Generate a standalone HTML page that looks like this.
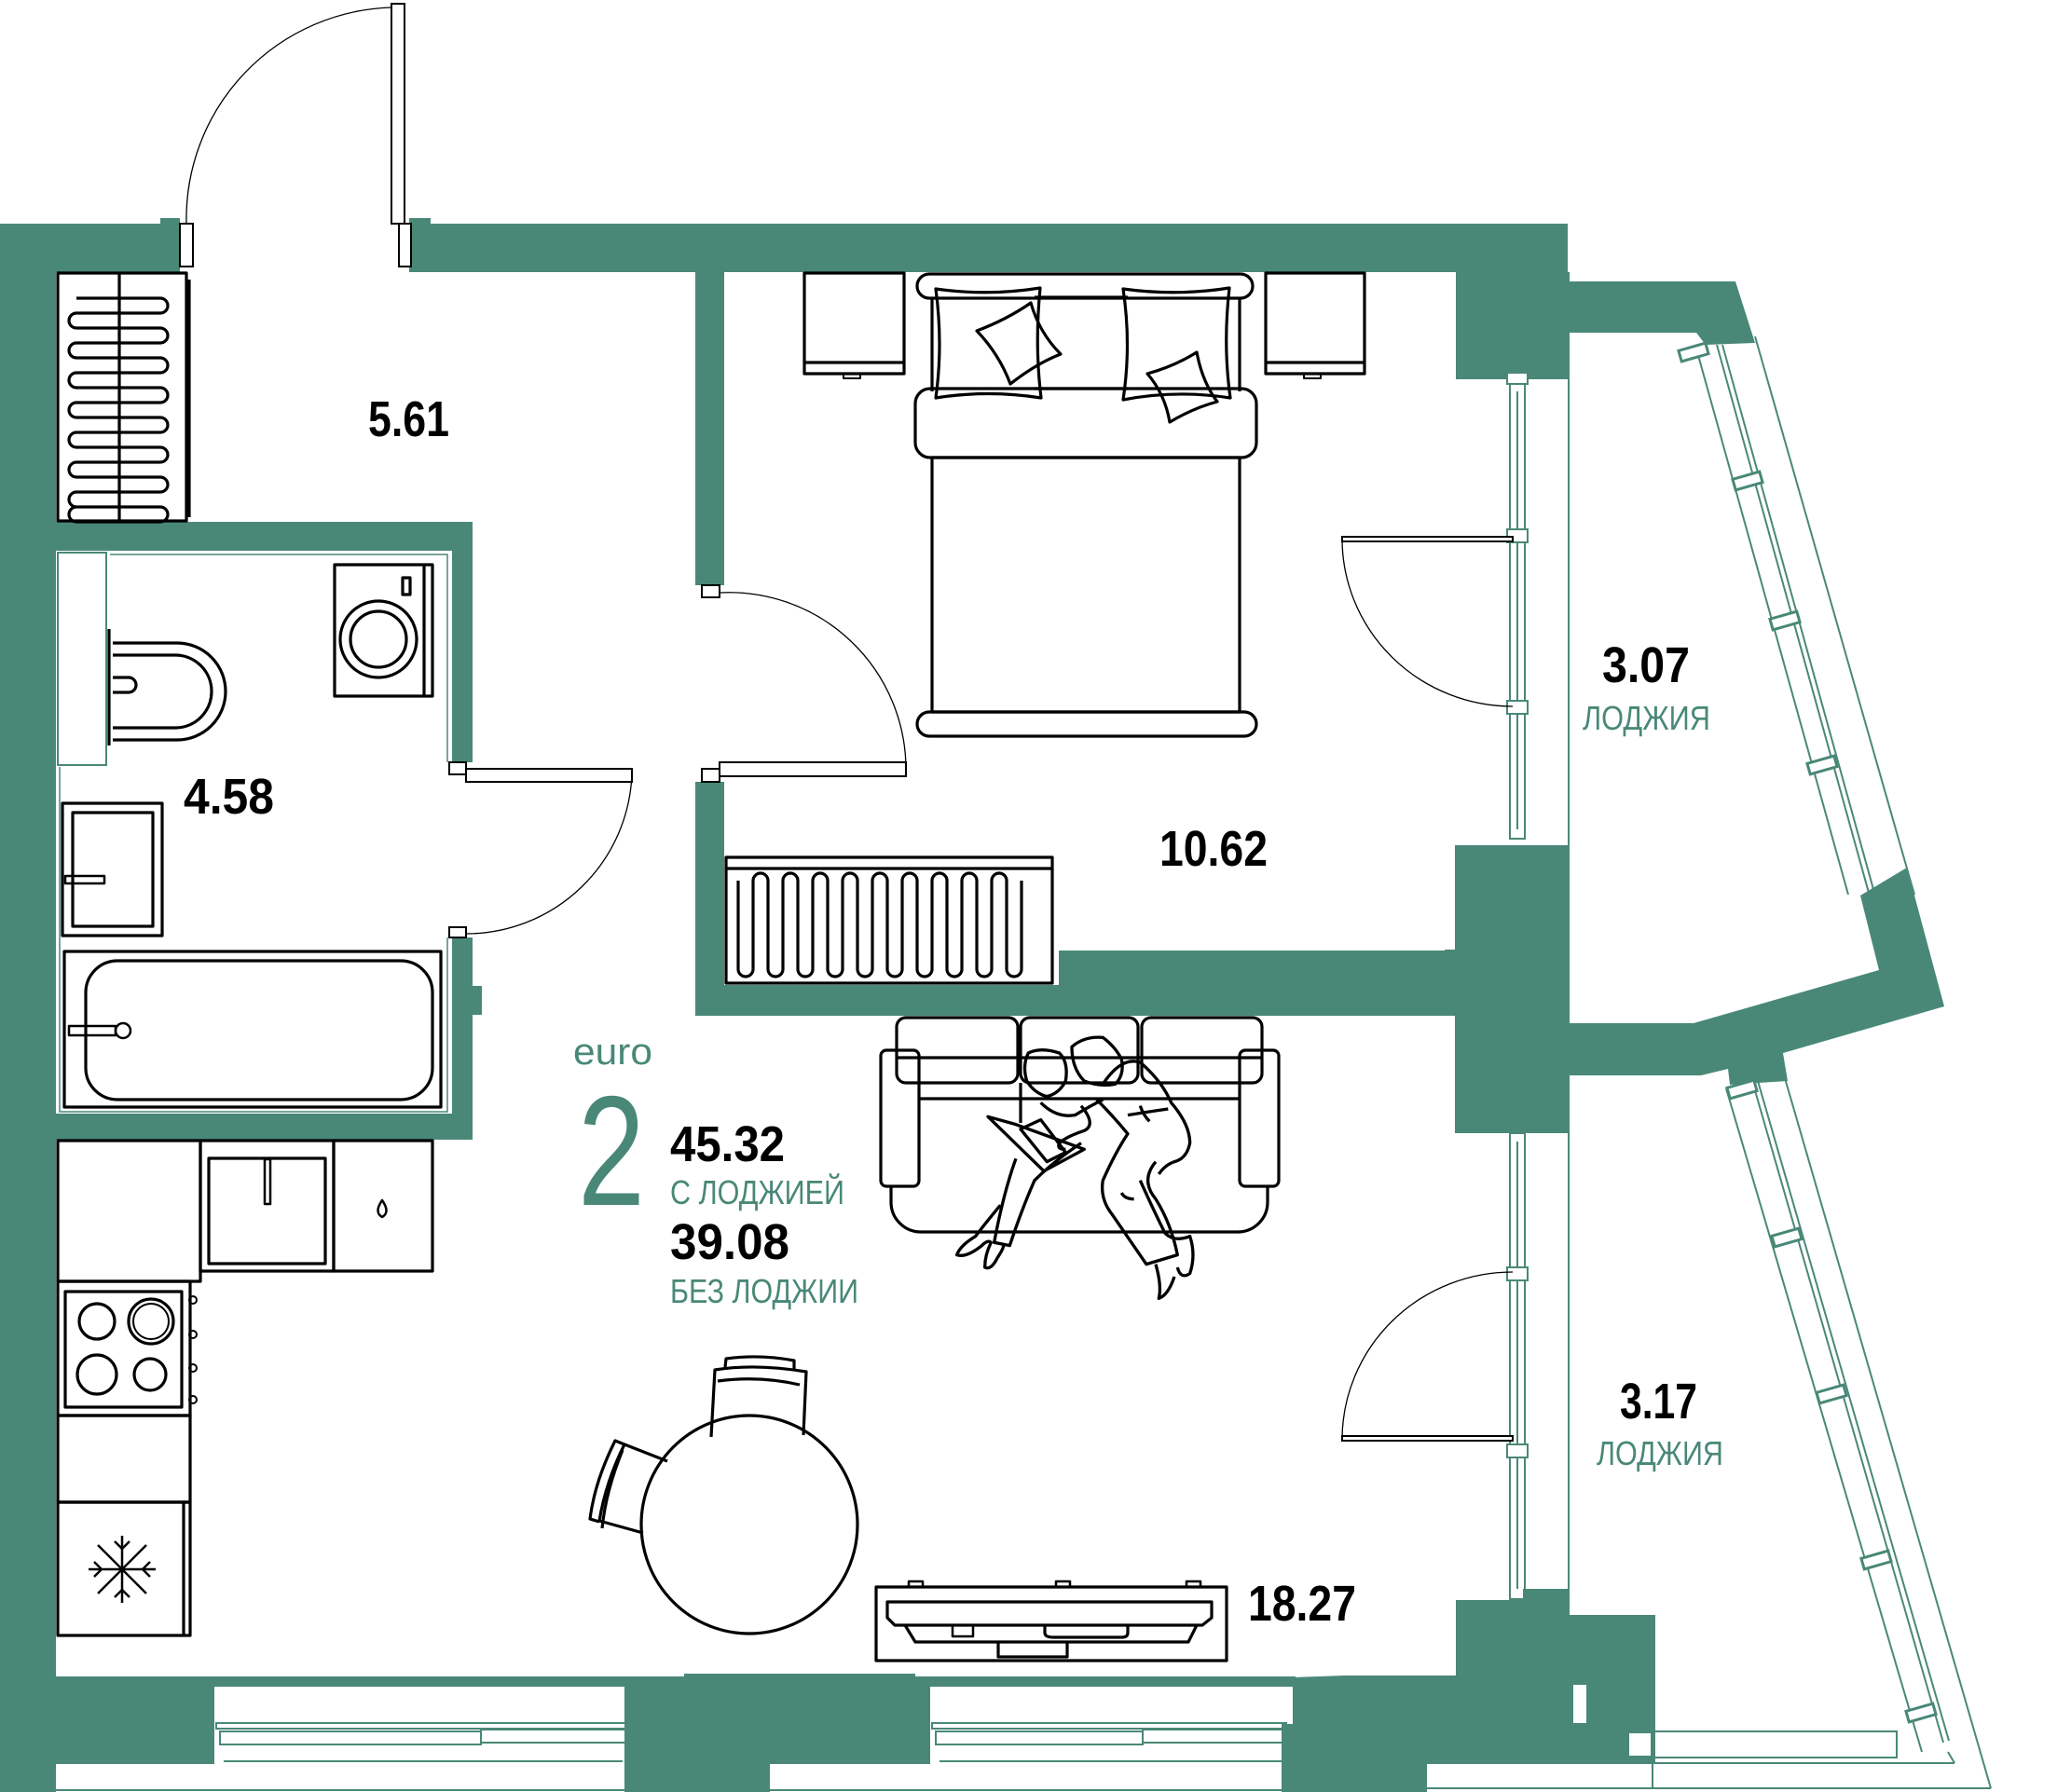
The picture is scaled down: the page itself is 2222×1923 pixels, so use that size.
<!DOCTYPE html>
<html><head><meta charset="utf-8"><style>html,body{margin:0;padding:0;background:#fff}svg{display:block}</style></head>
<body>
<svg xmlns="http://www.w3.org/2000/svg" width="2222" height="1923" viewBox="0 0 2222 1923">
<g fill="#498877" stroke="none">
<rect x="0" y="240" width="193" height="52"/>
<rect x="172" y="234" width="21" height="10"/>
<rect x="439" y="240" width="1243" height="52"/>
<rect x="439" y="234" width="23" height="10"/>
<rect x="0" y="240" width="60" height="1683"/>
<rect x="60" y="560" width="447" height="31"/>
<rect x="485" y="560" width="22" height="258"/>
<rect x="485" y="1006" width="22" height="217"/>
<rect x="505" y="1058" width="12" height="31"/>
<rect x="60" y="1195" width="447" height="28"/>
<rect x="746" y="292" width="31" height="336"/>
<rect x="746" y="839" width="31" height="251"/>
<rect x="746" y="1057" width="400" height="33"/>
<rect x="1136" y="1020" width="430" height="70"/>
<rect x="1562" y="292" width="122" height="115"/>
<polygon points="1680,302 1862,302 1883,368 1830,370 1820,357 1680,357"/>
<rect x="1561" y="907" width="123" height="309"/>
<rect x="1550" y="1019" width="14" height="71"/>
<polygon points="1680,1098 1817,1098 2016,1041 1996,961 2046,931 2086,1080 1913,1130 1918,1160 1856,1164 1854,1147 1825,1154 1680,1154"/>
<polygon points="1387,1800 1442,1798 1562,1798 1562,1717 1634,1717 1634,1705 1684,1705 1684,1733 1776,1733 1776,1893 1531,1893 1531,1923 1375,1923 1375,1850 1387,1850"/>
<rect x="60" y="1799" width="1330" height="11"/>
<rect x="0" y="1799" width="230" height="94"/>
<rect x="0" y="1893" width="58" height="30"/>
<rect x="670" y="1799" width="156" height="124"/>
<rect x="681" y="1799" width="317" height="94"/>
<rect x="734" y="1796" width="248" height="10"/>
</g>
<g fill="#fff">
<rect x="1688" y="1808" width="14" height="41"/>
<rect x="1748" y="1860" width="23" height="24"/>
</g>
<g fill="none" stroke="#498877" stroke-width="2">
<rect x="232" y="1849" width="448" height="6"/>
<rect x="236" y="1858" width="280" height="14"/>
<rect x="516" y="1856" width="160" height="14"/>
<line x1="240" y1="1890" x2="668" y2="1890"/>
<line x1="58" y1="1921" x2="670" y2="1921"/>
<rect x="1000" y="1849" width="380" height="6"/>
<rect x="1004" y="1858" width="222" height="14"/>
<rect x="1226" y="1856" width="150" height="14"/>
<line x1="1008" y1="1890" x2="1375" y2="1890"/>
<line x1="826" y1="1921" x2="1375" y2="1921"/>
<line x1="998" y1="1803" x2="1386" y2="1803"/>
<line x1="998" y1="1808" x2="1386" y2="1808"/>
<line x1="1531" y1="1919" x2="2136" y2="1919"/>
<line x1="1773" y1="1892" x2="2097" y2="1892"/>
<rect x="1775" y="1858" width="260" height="28"/>
<line x1="1773" y1="1893" x2="1773" y2="1919"/>
<line x1="1820" y1="374" x2="1983" y2="960"/>
<line x1="1842" y1="370" x2="2005" y2="958"/>
<line x1="1848" y1="370" x2="2011" y2="958"/>
<line x1="1883" y1="361" x2="2054" y2="960"/>
<line x1="1852" y1="1168" x2="2062" y2="1880"/>
<line x1="1880" y1="1160" x2="2085" y2="1870"/>
<line x1="1886" y1="1160" x2="2091" y2="1868"/>
<line x1="1913" y1="1150" x2="2136" y2="1919"/>
<line x1="2090" y1="1880" x2="2097" y2="1892"/>
<rect x="1620" y="410" width="16" height="490"/>
<line x1="1628" y1="420" x2="1628" y2="890"/>
<line x1="1683" y1="357" x2="1683" y2="907"/>
<rect x="1620" y="1216" width="16" height="500"/>
<line x1="1628" y1="1225" x2="1628" y2="1705"/>
<line x1="1683" y1="1216" x2="1683" y2="1733"/>
<rect x="62" y="593" width="52" height="228"/>
<path d="M64,823 V1193 H480 V1006 M480,818 V595 H118" stroke-width="1.5"/>
</g>
<g fill="#fff" stroke="#498877" stroke-width="3">
<rect x="1802" y="372" width="30" height="12" transform="rotate(-16 1817 378)"/>
<rect x="1860" y="510" width="30" height="12" transform="rotate(-16 1875 516)"/>
<rect x="1900" y="660" width="30" height="12" transform="rotate(-16 1915 666)"/>
<rect x="1940" y="815" width="30" height="12" transform="rotate(-16 1955 821)"/>
<rect x="1854" y="1163" width="30" height="12" transform="rotate(-16 1869 1169)"/>
<rect x="1902" y="1322" width="30" height="12" transform="rotate(-16 1917 1328)"/>
<rect x="1950" y="1490" width="30" height="12" transform="rotate(-16 1965 1496)"/>
<rect x="1998" y="1668" width="30" height="12" transform="rotate(-16 2013 1674)"/>
<rect x="2046" y="1832" width="30" height="12" transform="rotate(-16 2061 1838)"/>
<rect x="1617" y="400" width="22" height="12" stroke-width="2"/>
<rect x="1617" y="568" width="22" height="14" stroke-width="2"/>
<rect x="1617" y="752" width="22" height="14" stroke-width="2"/>
<rect x="1617" y="1360" width="22" height="14" stroke-width="2"/>
<rect x="1617" y="1550" width="22" height="14" stroke-width="2"/>
</g>
<g fill="#fff" stroke="#000" stroke-width="2">
<rect x="193" y="240" width="14" height="46"/>
<rect x="428" y="240" width="13" height="46"/>
<rect x="420" y="4" width="14" height="236"/>
<rect x="482" y="818" width="18" height="13"/>
<rect x="500" y="825" width="178" height="14"/>
<rect x="482" y="995" width="18" height="11"/>
<rect x="753" y="628" width="19" height="13"/>
<rect x="753" y="825" width="19" height="14"/>
<rect x="772" y="818" width="200" height="15"/>
<rect x="1440" y="576" width="183" height="5"/>
<rect x="1440" y="1541" width="183" height="5"/>
</g>
<g fill="none" stroke="#000" stroke-width="1.3">
<path d="M200,240 A227,227 0 0 1 420,8"/>
<path d="M678,830 A178,178 0 0 1 500,1002"/>
<path d="M772,636 A190,190 0 0 1 972,825"/>
<path d="M1440,578 A183,180 0 0 0 1623,758"/>
<path d="M1440,1543 A183,180 0 0 1 1623,1365"/>
</g>
<g fill="none" stroke="#000" stroke-width="3.2" stroke-linejoin="round">
<rect x="62" y="293" width="138" height="266"/>
<line x1="128" y1="293" x2="128" y2="559"/>
<line x1="203" y1="300" x2="203" y2="555"/>
<path d="M82,320 H172 a8,8 0 0 1 0,16 H82 a8,8 0 0 0 0,16 H172 a8,8 0 0 1 0,16 H82 a8,8 0 0 0 0,16 H172 a8,8 0 0 1 0,16 H82 a8,8 0 0 0 0,16 H172 a8,8 0 0 1 0,16 H82 a8,8 0 0 0 0,16 H172 a8,8 0 0 1 0,16 H82 a8,8 0 0 0 0,16 H172 a8,8 0 0 1 0,16 H82 a8,8 0 0 0 0,16 H172 a8,8 0 0 1 0,16 H82 a8,8 0 0 0 0,16 H172 a8,8 0 0 1 0,16 H82 a8,8 0 0 1 0,-16"/>
<rect x="359" y="606" width="105" height="141"/>
<line x1="455" y1="606" x2="455" y2="747"/>
<rect x="432" y="620" width="8" height="18"/>
<circle cx="406" cy="686" r="41"/>
<circle cx="406" cy="686" r="30"/>
<line x1="117" y1="675" x2="117" y2="800"/>
<path d="M121,690 H190 a52,52 0 0 1 0,104 H121"/>
<path d="M121,703 H188 a39,39 0 0 1 0,78 H121"/>
<path d="M121,727 H138 a8,8 0 0 1 0,16 H121"/>
<rect x="67" y="862" width="107" height="142"/>
<rect x="78" y="872" width="86" height="122"/>
<rect x="70" y="940" width="42" height="8" stroke-width="2.5"/>
<rect x="69" y="1021" width="404" height="167"/>
<rect x="92" y="1031" width="372" height="149" rx="34"/>
<rect x="74" y="1101" width="50" height="10" stroke-width="2.5"/>
<circle cx="132" cy="1106" r="8" stroke-width="2.5"/>
<rect x="62" y="1224" width="153" height="151"/>
<rect x="215" y="1224" width="143" height="140"/>
<rect x="224" y="1243" width="125" height="113"/>
<rect x="284" y="1244" width="6" height="48" stroke-width="2.5"/>
<rect x="358" y="1224" width="106" height="140"/>
<path d="M410,1288 q-9,13 0,18 q9,-5 0,-18z" stroke-width="2.5"/>
<rect x="62" y="1375" width="142" height="144"/>
<rect x="70" y="1386" width="125" height="124"/>
<circle cx="104" cy="1418" r="19"/>
<circle cx="162" cy="1418" r="24"/>
<circle cx="162" cy="1418" r="19" stroke-width="2"/>
<circle cx="104" cy="1475" r="21"/>
<circle cx="161" cy="1475" r="17"/>
<circle cx="207" cy="1395" r="4" stroke-width="2"/>
<circle cx="207" cy="1432" r="4" stroke-width="2"/>
<circle cx="207" cy="1468" r="4" stroke-width="2"/>
<circle cx="207" cy="1502" r="4" stroke-width="2"/>
<rect x="62" y="1519" width="142" height="93"/>
<rect x="62" y="1612" width="142" height="143"/>
<line x1="197" y1="1612" x2="197" y2="1755"/>
<g stroke-width="2.5" transform="translate(131,1684)">
<line x1="-36" y1="0" x2="36" y2="0"/><line x1="0" y1="-36" x2="0" y2="36"/>
<line x1="-26" y1="-26" x2="26" y2="26"/><line x1="-26" y1="26" x2="26" y2="-26"/>
<path d="M-8,-30 L0,-22 L8,-30 M-8,30 L0,22 L8,30 M-30,-8 L-22,0 L-30,8 M30,-8 L22,0 L30,8"/>
</g>
<path d="M997,294 H1331 a13,13 0 0 1 0,26 H997 a13,13 0 0 1 0,-26z"/>
<line x1="1000" y1="320" x2="1000" y2="420"/>
<line x1="1330" y1="320" x2="1330" y2="420"/>
<line x1="1110" y1="319" x2="1210" y2="319"/>
<line x1="1110" y1="417" x2="1210" y2="417"/>
<path d="M998,417 H1332 a16,16 0 0 1 16,16 V475 a16,16 0 0 1 -16,16 H998 a16,16 0 0 1 -16,-16 V433 a16,16 0 0 1 16,-16z"/>
<rect x="1000" y="491" width="330" height="273"/>
<path d="M997,764 H1335 a13,13 0 0 1 0,26 H997 a13,13 0 0 1 0,-26z"/>
<path d="M1004,310 Q1060,318 1116,309 Q1110,370 1117,427 Q1060,418 1004,427 Q1012,370 1004,310z"/>
<path d="M1205,310 Q1262,318 1319,309 Q1312,370 1320,427 Q1262,418 1205,429 Q1214,370 1205,310z"/>
<path d="M1048,355 Q1080,343 1106,325 Q1115,357 1138,380 Q1112,390 1084,412 Q1072,380 1048,355z"/>
<path d="M1231,401 Q1260,393 1284,378 Q1290,410 1306,431 Q1280,438 1255,453 Q1250,423 1231,401z"/>
<rect x="863" y="293" width="107" height="108"/>
<line x1="863" y1="389" x2="970" y2="389"/>
<rect x="905" y="401" width="18" height="5" stroke-width="2"/>
<rect x="1358" y="293" width="106" height="108"/>
<line x1="1358" y1="389" x2="1464" y2="389"/>
<rect x="1399" y="401" width="18" height="5" stroke-width="2"/>
<rect x="779" y="920" width="350" height="135"/>
<line x1="779" y1="932" x2="1129" y2="932"/>
<path d="M792,945 V1040 a8,8 0 0 0 16,0 V945 a8,8 0 0 1 16,0 V1040 a8,8 0 0 0 16,0 V945 a8,8 0 0 1 16,0 V1040 a8,8 0 0 0 16,0 V945 a8,8 0 0 1 16,0 V1040 a8,8 0 0 0 16,0 V945 a8,8 0 0 1 16,0 V1040 a8,8 0 0 0 16,0 V945 a8,8 0 0 1 16,0 V1040 a8,8 0 0 0 16,0 V945 a8,8 0 0 1 16,0 V1040 a8,8 0 0 0 16,0 V945 a8,8 0 0 1 16,0 V1040 a8,8 0 0 0 16,0 V945 a8,8 0 0 1 16,0 V1040 a8,8 0 0 0 16,0 V945 a8,8 0 0 1 16,0 V1040 a8,8 0 0 0 16,0 V945"/>
<rect x="962" y="1092" width="130" height="70" rx="10"/>
<rect x="1095" y="1092" width="126" height="70" rx="10"/>
<rect x="1225" y="1092" width="129" height="70" rx="10"/>
<line x1="962" y1="1135" x2="1354" y2="1135"/>
<line x1="986" y1="1179" x2="1330" y2="1179"/>
<rect x="945" y="1127" width="41" height="146" rx="6"/>
<rect x="1330" y="1127" width="42" height="146" rx="6"/>
<path d="M956,1273 V1290 a32,32 0 0 0 32,32 H1328 a32,32 0 0 0 32,-32 V1273"/>
<line x1="1095" y1="1162" x2="1095" y2="1205"/>
<g transform="translate(930,1080) scale(0.3333)" stroke-width="10">
<path d="M520,150 Q560,130 620,150 Q650,180 640,240 Q620,280 580,290 Q540,280 515,240 Q500,190 520,150z"/>
<path d="M660,130 Q700,95 760,100 Q800,130 820,170 Q830,220 800,250 Q750,260 700,240 Q660,200 660,130z"/>
<path d="M760,250 Q820,160 880,180 Q950,240 980,310 Q1040,380 1040,440 Q1030,490 990,500 Q960,510 940,540"/>
<path d="M840,350 Q900,340 970,330 M880,320 Q890,350 910,370"/>
<path d="M740,300 Q790,350 840,410 Q800,470 760,560 Q750,620 790,670 L900,830 L1000,800 Q980,700 930,620 Q880,560 930,500"/>
<path d="M880,560 Q920,650 960,730 Q990,760 1040,740 Q1060,800 1040,860 Q1010,880 1000,840"/>
<path d="M930,830 Q950,900 940,940 Q970,930 990,870"/>
<path d="M820,600 Q830,620 860,620"/>
<path d="M560,310 Q610,360 670,350 Q720,320 760,300"/>
<path d="M390,355 L570,530 L700,460 L480,380z"/>
<path d="M495,395 L560,365 L640,470 L580,500z"/>
<path d="M690,320 Q740,380 700,400 Q640,420 620,440 Q610,460 640,460"/>
<path d="M480,490 Q440,600 410,760 L460,770 Q500,650 540,560 Q600,500 690,440"/>
<path d="M430,640 Q380,700 350,740 Q300,770 290,800 Q320,810 370,770 Q390,750 400,760 Q380,800 380,840 Q400,850 420,810 Q440,780 440,770"/>
</g>
<ellipse cx="804" cy="1636" rx="116" ry="117"/>
<path d="M763,1542 L767,1470 Q810,1463 865,1472 L862,1540"/>
<path d="M770,1482 Q815,1476 858,1486"/>
<path d="M778,1467 L779,1458 Q815,1453 852,1460 L852,1470"/>
<path d="M716,1568 L670,1550 Q650,1590 643,1632 L690,1645"/>
<path d="M668,1556 Q650,1600 646,1640"/>
<path d="M670,1550 L660,1546 Q638,1590 633,1630 L643,1633"/>
<rect x="940" y="1703" width="376" height="79"/>
<path d="M952,1719 H1300 V1736 L1290,1744 H960 L952,1736z"/>
<path d="M971,1744 L982,1762 H1275 L1284,1744"/>
<rect x="1022" y="1744" width="22" height="12" stroke-width="2.5"/>
<path d="M1121,1744 V1752 Q1121,1757 1130,1757 H1204 Q1210,1757 1210,1752 V1744"/>
<path d="M1071,1762 V1778 H1145 V1762"/>
<path d="M975,1703 V1697 H990 V1703 M1133,1703 V1697 H1148 V1703 M1273,1703 V1697 H1288 V1703" stroke-width="2.5"/>
</g>
<g font-family="'Liberation Sans', 'DejaVu Sans', sans-serif">
<g fill="#000" font-weight="bold" font-size="54">
<text x="395" y="468" textLength="87" lengthAdjust="spacingAndGlyphs">5.61</text>
<text x="197" y="873" textLength="97" lengthAdjust="spacingAndGlyphs">4.58</text>
<text x="1244" y="929" textLength="116" lengthAdjust="spacingAndGlyphs">10.62</text>
<text x="1719" y="732" textLength="94" lengthAdjust="spacingAndGlyphs">3.07</text>
<text x="1738" y="1522" textLength="83" lengthAdjust="spacingAndGlyphs">3.17</text>
<text x="1339" y="1739" textLength="116" lengthAdjust="spacingAndGlyphs">18.27</text>
<text x="719" y="1246" textLength="123" lengthAdjust="spacingAndGlyphs">45.32</text>
<text x="719" y="1351" textLength="128" lengthAdjust="spacingAndGlyphs">39.08</text>
</g>
<g fill="#498877" font-size="36">
<text x="1698" y="783" textLength="137" lengthAdjust="spacingAndGlyphs">ЛОДЖИЯ</text>
<text x="1713" y="1572" textLength="136" lengthAdjust="spacingAndGlyphs">ЛОДЖИЯ</text>
<text x="719" y="1292" textLength="187" lengthAdjust="spacingAndGlyphs">С ЛОДЖИЕЙ</text>
<text x="719" y="1398" textLength="202" lengthAdjust="spacingAndGlyphs">БЕЗ ЛОДЖИИ</text>
<text x="615" y="1142" font-size="40" textLength="85" lengthAdjust="spacingAndGlyphs">euro</text>
<text x="620" y="1293" font-size="168" textLength="72" lengthAdjust="spacingAndGlyphs">2</text>
</g>
</g>
</svg>
</body></html>
